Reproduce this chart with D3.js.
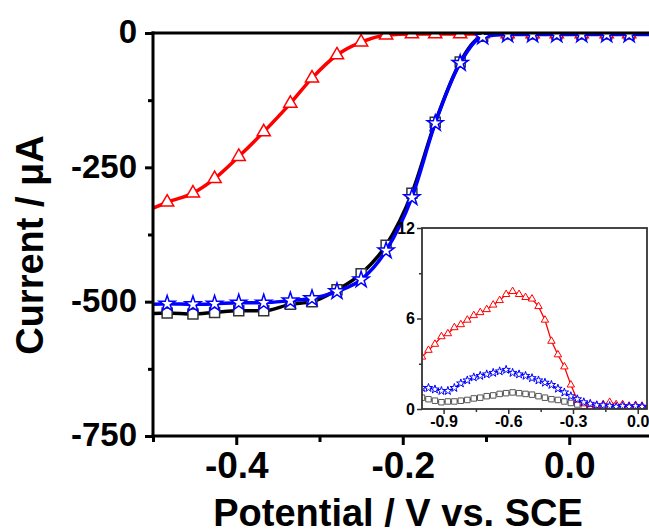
<html>
<head>
<meta charset="utf-8">
<script src="https://cdn.jsdelivr.net/npm/d3@7"></script>
<style>
  body { margin: 0; background: #fff; }
  text { font-family: "Liberation Sans", Arial, sans-serif; font-weight: bold; }
</style>
</head>
<body>
<script>
// main chart data: potential (V vs SCE) and current (uA)
var potential = [-0.5, -0.483, -0.452, -0.426, -0.397, -0.367, -0.335, -0.309, -0.279, -0.250, -0.220,
                 -0.189, -0.161, -0.131, -0.104, -0.074, -0.044, -0.015, 0.015, 0.045, 0.072, 0.1];
var redCurrent = [-326, -315, -298, -271, -230, -184, -131, -84, -41, -17, -4,
                  -2, -2, -2, -2, -2, -2, -2, -2, -2, -2, -2];
var blackCurrent = [-522, -521, -523, -520, -517, -517, -505, -500, -478, -448, -395,
                    -298, -166, -54, -6, -2, -2, -2, -2, -2, -2, -2];
var blueCurrent = [-505, -504, -505, -504, -502, -502, -498, -494, -481, -459, -405,
                   -306, -168, -56, -7, -3, -3, -3, -3, -3, -3, -3];
var yTicks = [0, -250, -500, -750];
var yMinor = [-125, -375, -625];
var xTicks = [-0.4, -0.2, 0.0];
var xMinor = [-0.5, -0.3, -0.1, 0.1];

// inset data
var insetPotential = [-1.00, -0.97, -0.94, -0.91, -0.88, -0.85, -0.82, -0.79, -0.76, -0.73, -0.70, -0.67,
                      -0.64, -0.61, -0.58, -0.55, -0.52, -0.49, -0.46, -0.43, -0.40, -0.37, -0.34, -0.31,
                      -0.28, -0.25, -0.22, -0.19, -0.16, -0.13, -0.10, -0.07, -0.04, -0.01, 0.02, 0.05];
var insetRed = [3.45, 3.9, 4.3, 4.8, 5.0, 5.4, 5.6, 5.9, 6.2, 6.4, 6.6, 6.9,
                7.2, 7.6, 7.8, 7.6, 7.4, 7.3, 6.8, 5.9, 4.5, 3.6, 2.8, 1.6,
                0.6, 0.35, 0.3, 0.25, 0.3, 0.45, 0.3, 0.3, 0.2, 0.25, 0.2, 0.1];
var insetBlue = [1.4, 1.4, 1.3, 1.2, 1.2, 1.4, 1.7, 1.9, 2.1, 2.2, 2.3, 2.4,
                 2.5, 2.6, 2.4, 2.3, 2.2, 2.05, 1.9, 1.75, 1.6, 1.35, 1.1, 0.85,
                 0.65, 0.45, 0.35, 0.25, 0.25, 0.2, 0.15, 0.2, 0.15, 0.2, 0.15, 0.15];
var insetBlack = [0.75, 0.65, 0.55, 0.45, 0.5, 0.5, 0.55, 0.6, 0.7, 0.75, 0.85, 0.9,
                  1.0, 1.05, 1.1, 1.05, 1.0, 0.95, 0.85, 0.75, 0.65, 0.6, 0.5, 0.4,
                  0.3, 0.2, 0.12, 0.08, 0.06, 0.05, 0.05, 0.05, 0.05, 0.05, 0.05, 0.05];
var insetYTicks = [0, 6, 12];
var insetYMinor = [3, 9];
var insetXTicks = [-0.9, -0.6, -0.3, 0.0];
var insetXMinor = [-0.75, -0.45, -0.15];

var width = 649, height = 529;
var svg = d3.select("body").append("svg")
    .attr("width", width)
    .attr("height", height);

// scales
var x = d3.scaleLinear().domain([-0.5, 0.1]).range([153, 652.5]);
var y = d3.scaleLinear().domain([-750, 0]).range([436, 33]);

svg.append("clipPath").attr("id", "plotclip")
    .append("rect").attr("x", 153).attr("y", 33).attr("width", 500).attr("height", 403);

var series = [
    {values: blackCurrent, color: "#000", marker: "#333", symbol: d3.symbolSquare, size: 100},
    {values: redCurrent, color: "#ff0000", marker: "#ff0000", symbol: d3.symbolTriangle, size: 75},
    {values: blueCurrent, color: "#0000ff", marker: "#0000ff", symbol: d3.symbolStar, size: 80}
];

var plot = svg.append("g").attr("clip-path", "url(#plotclip)");

series.forEach(function(s) {
    var pts = potential.map(function(p, i) { return [p, s.values[i]]; });
    var line = d3.line()
        .x(function(d) { return x(d[0]); })
        .y(function(d) { return y(d[1]); })
        .curve(d3.curveMonotoneX);
    plot.append("path")
        .attr("d", line(pts))
        .attr("fill", "none")
        .attr("stroke", s.color)
        .attr("stroke-width", 3.5);
    // markers on all but the end points
    plot.selectAll(null)
        .data(pts.slice(1, pts.length - 1))
        .enter()
        .append("path")
        .attr("d", d3.symbol().type(s.symbol).size(s.size))
        .attr("transform", function(d) { return "translate(" + x(d[0]) + "," + y(d[1]) + ")"; })
        .attr("fill", "#fff")
        .attr("stroke", s.marker)
        .attr("stroke-width", 1.5);
});

// main axes
var xAxis = d3.axisBottom(x).tickValues(xTicks).tickSize(9)
    .tickFormat(d3.format(".1f"));
var xAxisMinor = d3.axisBottom(x).tickValues(xMinor).tickSize(6).tickFormat("");
var yAxis = d3.axisLeft(y).tickValues(yTicks).tickSize(8);
var yAxisMinor = d3.axisLeft(y).tickValues(yMinor).tickSize(5).tickFormat("");

function styleAxis(g, fs) {
    g.select(".domain").remove();
    g.selectAll("line").attr("stroke", "#000").attr("stroke-width", 3);
    g.selectAll("text").attr("fill", "#000").style("font-size", fs);
}

svg.append("g").attr("transform", "translate(0,436)").call(xAxisMinor).call(styleAxis, "0px");
svg.append("g").attr("transform", "translate(0,436)").call(xAxis).call(styleAxis, "37px")
    .selectAll("text").attr("y", 42).attr("dy", 0)
    .text(function(d) { return d3.format(".1f")(d).replace("−", "-"); });
svg.append("g").attr("transform", "translate(153,0)").call(yAxisMinor).call(styleAxis, "0px");
svg.append("g").attr("transform", "translate(153,0)").call(yAxis).call(styleAxis, "33px")
    .selectAll("text").attr("x", -16).attr("dy", "0.3em")
    .text(function(d) { return String(d); });

// frame lines
svg.append("line").attr("x1", 153).attr("x2", 153).attr("y1", 31.5).attr("y2", 437.5)
    .attr("stroke", "#000").attr("stroke-width", 3);
svg.append("line").attr("x1", 151.5).attr("x2", 649).attr("y1", 436).attr("y2", 436)
    .attr("stroke", "#000").attr("stroke-width", 3);
svg.append("line").attr("x1", 151.5).attr("x2", 649).attr("y1", 33).attr("y2", 33)
    .attr("stroke", "#000").attr("stroke-width", 3);

// axis titles
svg.append("text")
    .attr("transform", "translate(43,245) rotate(-90)")
    .attr("text-anchor", "middle")
    .style("font-size", "38px")
    .text("Current / μA");
svg.append("text")
    .attr("x", 398).attr("y", 526)
    .attr("text-anchor", "middle")
    .style("font-size", "38px")
    .text("Potential / V vs. SCE");

// inset
var ix = d3.scaleLinear().domain([-1.0, 0.05]).range([422, 648.5]);
var iy = d3.scaleLinear().domain([0, 12]).range([409, 228]);

svg.append("rect").attr("x", 422).attr("y", 228).attr("width", 225).attr("height", 181)
    .attr("fill", "#fff");

var insetSeries = [
    {values: insetBlack, color: "#000", marker: "#555", symbol: d3.symbolSquare, size: 30},
    {values: insetRed, color: "#ff0000", marker: "#ff0000", symbol: d3.symbolTriangle, size: 24},
    {values: insetBlue, color: "#0000ff", marker: "#0000ff", symbol: d3.symbolStar, size: 22}
];

svg.append("clipPath").attr("id", "insetclip")
    .append("rect").attr("x", 422).attr("y", 228).attr("width", 225).attr("height", 181);
var inset = svg.append("g").attr("clip-path", "url(#insetclip)");

insetSeries.forEach(function(s) {
    var pts = insetPotential.map(function(p, i) { return [p, s.values[i]]; });
    var line = d3.line()
        .x(function(d) { return ix(d[0]); })
        .y(function(d) { return iy(d[1]); });
    inset.append("path")
        .attr("d", line(pts))
        .attr("fill", "none")
        .attr("stroke", s.color)
        .attr("stroke-width", 1.3);
    inset.selectAll(null)
        .data(pts)
        .enter()
        .append("path")
        .attr("d", d3.symbol().type(s.symbol).size(s.size))
        .attr("transform", function(d) { return "translate(" + ix(d[0]) + "," + iy(d[1]) + ")"; })
        .attr("fill", "#fff")
        .attr("stroke", s.marker)
        .attr("stroke-width", 1);
});

// inset frame
svg.append("rect").attr("x", 422).attr("y", 228).attr("width", 225).attr("height", 181)
    .attr("fill", "none").attr("stroke", "#333").attr("stroke-width", 1.8);

var ixAxis = d3.axisBottom(ix).tickValues(insetXTicks).tickSize(5)
    .tickFormat(function(d) { return d3.format(".1f")(d).replace("−", "-"); });
var ixMinor = d3.axisBottom(ix).tickValues(insetXMinor).tickSize(3).tickFormat("");
var iyAxis = d3.axisLeft(iy).tickValues(insetYTicks).tickSize(5);
var iyMinor = d3.axisLeft(iy).tickValues(insetYMinor).tickSize(3).tickFormat("");

function styleInset(g) {
    g.select(".domain").remove();
    g.selectAll("line").attr("stroke", "#333").attr("stroke-width", 1.5);
    g.selectAll("text").attr("fill", "#000").style("font-size", "16px");
}
svg.append("g").attr("transform", "translate(0,409)").call(ixAxis).call(styleInset)
    .selectAll("text").attr("y", 18).attr("dy", 0);
svg.append("g").attr("transform", "translate(0,409)").call(ixMinor).call(styleInset);
svg.append("g").attr("transform", "translate(422,0)").call(iyAxis).call(styleInset)
    .selectAll("text").attr("x", -7);
svg.append("g").attr("transform", "translate(422,0)").call(iyMinor).call(styleInset);
</script>
</body>
</html>
